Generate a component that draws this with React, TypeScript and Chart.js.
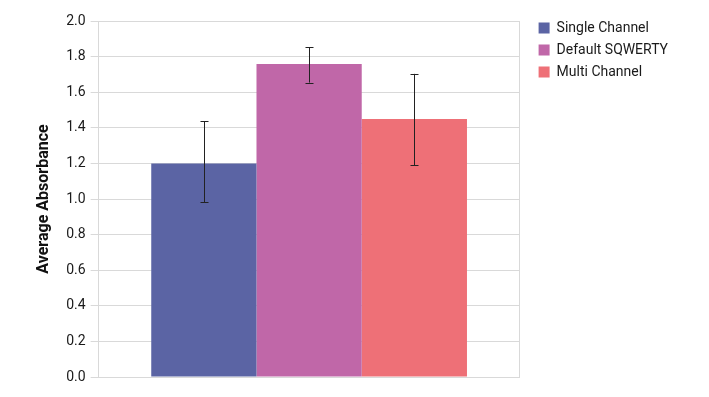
import React, { useEffect, useRef } from "react";
import { Chart, registerables } from "chart.js";

Chart.register(...registerables);

const categories = [""];
const seriesNames = ["Single Channel", "Default SQWERTY", "Multi Channel"];
const seriesValues = [1.2, 1.758, 1.45];
const errLow = [0.982, 1.654, 1.189];
const errHigh = [1.438, 1.852, 1.703];
const colors = ["#5B64A4", "#C067A8", "#EE7077"];
const yTicks = [0, 0.2, 0.4, 0.6, 0.8, 1.0, 1.2, 1.4, 1.6, 1.8, 2.0];

const errorBarPlugin = {
  id: "errorBars",
  afterDatasetsDraw(chart: any) {
    const ctx = chart.ctx;
    const y = chart.scales.y;
    ctx.save();
    ctx.strokeStyle = "#222";
    ctx.lineWidth = 1;
    chart.data.datasets.forEach((ds: any, i: number) => {
      const meta = chart.getDatasetMeta(i);
      meta.data.forEach((bar: any) => {
        const x = Math.round(bar.x) + 0.5;
        const yl = y.getPixelForValue(errLow[i]);
        const yh = y.getPixelForValue(errHigh[i]);
        const cap = 4;
        ctx.beginPath();
        ctx.moveTo(x, yl);
        ctx.lineTo(x, yh);
        ctx.moveTo(x - cap, Math.round(yl) + 0.5);
        ctx.lineTo(x + cap, Math.round(yl) + 0.5);
        ctx.moveTo(x - cap, Math.round(yh) + 0.5);
        ctx.lineTo(x + cap, Math.round(yh) + 0.5);
        ctx.stroke();
      });
    });
    ctx.restore();
  },
};

const legendShiftPlugin = {
  id: "legendShift",
  afterLayout(chart: any) {
    const lg = chart.legend;
    if (!lg) return;
    lg.left += 11;
    lg.right += 11;
    lg.top -= 8;
    lg.bottom -= 8;
  },
};

export default function App() {
  const ref = useRef<HTMLCanvasElement>(null);
  useEffect(() => {
    const chart = new Chart(ref.current!, {
      type: "bar",
      data: {
        labels: categories,
        datasets: seriesNames.map((name, i) => ({
          label: name,
          data: [seriesValues[i]],
          backgroundColor: colors[i],
          borderWidth: 0,
          categoryPercentage: 0.75,
          barPercentage: 1.0,
        })),
      },
      options: {
        animation: false,
        responsive: false,
        maintainAspectRatio: false,
        layout: { padding: { left: 34, top: 21, bottom: 20, right: 42 } },
        plugins: {
          legend: {
            position: "right",
            align: "start",
            labels: {
              boxWidth: 11,
              boxHeight: 11,
              padding: 8,
              color: "#1a1a1a",
              font: { family: "Roboto", size: 14 },
            },
          },
          tooltip: { enabled: false },
        },
        scales: {
          x: {
            grid: { color: "#d9d9d9", drawTicks: false },
            border: { color: "#d9d9d9" },
            ticks: { display: false },
          },
          y: {
            min: 0,
            max: 2,
            afterBuildTicks: (axis: any) => {
              axis.ticks = yTicks.map((v) => ({ value: v }));
            },
            grid: { color: "#d9d9d9", tickLength: 8 },
            border: { color: "#d9d9d9" },
            ticks: {
              color: "#1a1a1a",
              font: { family: "Roboto", size: 14 },
              padding: 5,
              callback: (v: any) => Number(v).toFixed(1),
            },
            title: {
              display: true,
              text: "Average Absorbance",
              color: "#111",
              font: { family: "Roboto", size: 16, weight: "bold" },
              padding: { top: 0, bottom: 8 },
            },
          },
        },
      },
      plugins: [errorBarPlugin, legendShiftPlugin],
    });
    return () => chart.destroy();
  }, []);
  return (
    <div style={{ position: "fixed", left: 0, top: 0, width: 709, height: 397, background: "#fff" }}>
      <canvas ref={ref} width={709} height={397} style={{ width: 709, height: 397 }} />
    </div>
  );
}
